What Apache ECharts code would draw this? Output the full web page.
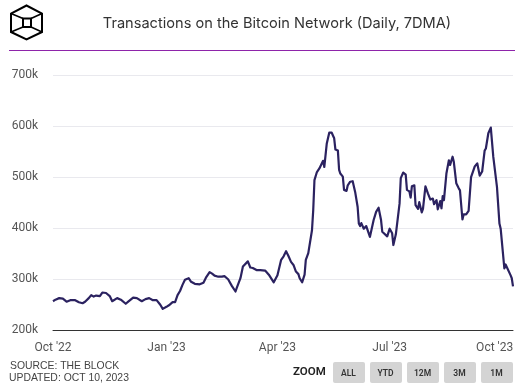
<!DOCTYPE html>
<html><head><meta charset="utf-8">
<style>html,body{margin:0;padding:0;background:#fff}#c{width:525px;height:390px}</style>
<script src="https://cdn.jsdelivr.net/npm/echarts@6/dist/echarts.min.js"></script>
</head><body><div id="c"></div>
<script>
const titleText = "Transactions on the Bitcoin Network (Daily, 7DMA)";
const sourceLines = ["SOURCE: THE BLOCK", "UPDATED: OCT 10, 2023"];
const zoomButtons = ["ALL", "YTD", "12M", "3M", "1M"];
// days since 1 Oct 2022
const dayOffsets = [0,2,5,8,11,14,18,21,24,26,29,31,33,35,38,40,43,46,48,52,55,59,61,65,68,72,75,78,81,84,87,89,92,94,97,99,101,103,105,107,110,112,115,119,122,124,127,129,131,134,137,139,142,145,148,149,152,154,158,160,162,165,168,172,175,179,182,185,187,189,191,193,195,197,199,200,202,204,205,207,210,211,212,214,216,217,219,220,222,224,226,228,229,231,232,233,235,236,238,239,241,243,245,247,248,249,250,252,254,257,258,260,262,264,266,267,271,273,275,276,278,279,281,282,284,286,287,289,290,291,293,294,296,297,299,300,302,304,306,308,309,311,312,314,315,316,317,319,321,322,324,325,327,329,330,332,333,335,337,339,340,342,344,346,348,350,351,353,355,357,358,360,362,363,366,367,368,371,372,373];
const txValues = [257,260,263,262,256,259,259,255,253,256,263,269,266,268,267,274,273,267,257,263,260,252,256,264,263,257,261,263,259,259,250,242,246,249,255,255,269,277,289,299,302,295,291,290,293,303,314,311,307,305,305,306,300,287,276,283,302,325,335,323,322,318,318,317,309,294,308,338,345,355,345,334,328,315,310,302,294,309,338,351,396,435,494,510,517,514,532,520,566,587,587,576,554,552,514,507,501,475,473,484,491,492,471,442,409,404,410,399,404,383,383,416,432,440,416,393,384,399,390,367,388,386,448,498,509,505,475,472,460,482,484,445,438,451,431,438,482,468,456,458,447,455,437,453,439,463,455,507,533,524,540,530,488,478,474,417,427,427,434,500,498,521,527,503,511,552,556,586,597,540,538,481,409,399,321,329,329,308,302,286];
const tickDays = [0,92,182,273,365];
const tickLabels = ["Oct '22","Jan '23","Apr '23","Jul '23","Oct '23"];
const yMin = 200, yMax = 700, yStep = 100;

const seriesData = dayOffsets.map((d, i) => [d, txValues[i]]);
const labelFont = "Roboto, 'Liberation Sans', sans-serif";

const chart = echarts.init(document.getElementById('c'), null, {renderer:'canvas'});
const ink = '#000000';
const btnX = [333, 370, 407, 444, 481];
const graphic = [
  {type:'polygon', shape:{points:[[26.5,5.5],[42,13.5],[42,32],[26.5,39.5],[11,32],[11,13.5]]}, style:{fill:'none',stroke:ink,lineWidth:2}},
  {type:'rect', shape:{x:23,y:18.5,width:8,height:8.5}, style:{fill:'none',stroke:ink,lineWidth:2}},
  {type:'polyline', shape:{points:[[11,13.5],[23,18.5]]}, style:{fill:'none',stroke:ink,lineWidth:1.6}},
  {type:'polyline', shape:{points:[[42,13.5],[31,18.5]]}, style:{fill:'none',stroke:ink,lineWidth:1.6}},
  {type:'polyline', shape:{points:[[11,32],[23,27]]}, style:{fill:'none',stroke:ink,lineWidth:1.6}},
  {type:'polyline', shape:{points:[[42,32],[31,27]]}, style:{fill:'none',stroke:ink,lineWidth:1.6}},
  {type:'rect', shape:{x:9,y:50,width:506,height:1}, style:{fill:'#8e24aa'}},
  {type:'text', x:277, y:24, style:{text:titleText, fill:'#333333', font:"14.6px Inter, Roboto, sans-serif", textAlign:'center', textVerticalAlign:'middle'}},
  {type:'text', x:10, y:366.5, style:{text:sourceLines[0], fill:'#444444', font:"500 10.4px 'Liberation Sans', sans-serif", textAlign:'left', textVerticalAlign:'middle'}},
  {type:'text', x:9, y:378.5, style:{text:sourceLines[1], fill:'#444444', font:"500 10.4px 'Liberation Sans', sans-serif", textAlign:'left', textVerticalAlign:'middle'}},
  {type:'text', x:293, y:372, style:{text:'ZOOM', fill:'#222222', font:"600 11.5px Roboto, sans-serif", textAlign:'left', textVerticalAlign:'middle'}}
];
zoomButtons.forEach((b, i) => {
  graphic.push({type:'rect', shape:{x:btnX[i],y:362,width:32,height:21,r:2}, style:{fill:'#d4d4d4'}});
  graphic.push({type:'text', x:btnX[i]+15.5, y:373.5, style:{text:b, fill:'#333333', font:"600 8.5px Roboto, sans-serif", textAlign:'center', textVerticalAlign:'middle'}});
});

chart.setOption({
  animation:false,
  backgroundColor:'#ffffff',
  grid:{left:53, right:12, top:75, height:255.3, containLabel:false},
  xAxis:{
    type:'value',
    min:0,
    max:373,
    axisLine:{show:true, onZero:false, lineStyle:{color:'#333333', width:1}},
    axisTick:{show:false},
    splitLine:{show:false},
    axisLabel:{
      customValues:tickDays,
      hideOverlap:false,
      margin:12,
      color:'#555555',
      fontFamily:labelFont,
      fontSize:12,
      formatter:(v) => {
        const i = tickDays.indexOf(+v);
        if (i < 0) return '';
        return i === tickLabels.length-1 ? '{last|' + tickLabels[i] + '}' : tickLabels[i];
      },
      rich:{last:{padding:[0,17,0,0], color:'#555555', fontFamily:labelFont, fontSize:12}}
    }
  },
  yAxis:{
    type:'value', min:yMin, max:yMax, interval:yStep,
    axisLine:{show:false}, axisTick:{show:false},
    splitLine:{lineStyle:{color:'#e9e9ee', width:1}},
    axisLabel:{
      color:'#555555', fontFamily:labelFont, fontSize:12, margin:15, padding:[4,0,0,0],
      formatter:(v) => v + 'k'
    }
  },
  series:[{
    type:'line', data:seriesData, showSymbol:false, smooth:false,
    clip:false,
    lineStyle:{color:'#2b2260', width:2.2, join:'round'}
  }],
  graphic:{elements:graphic}
});
</script></body></html>
